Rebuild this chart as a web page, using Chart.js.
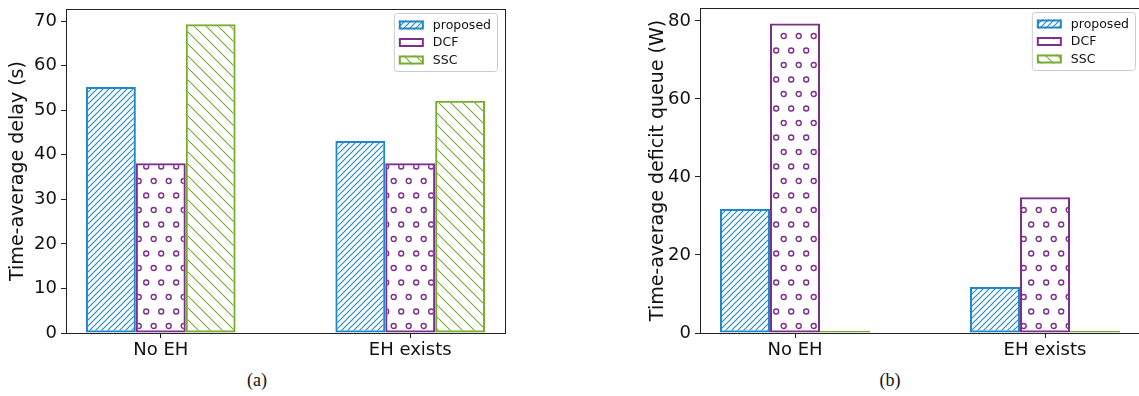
<!DOCTYPE html>
<html>
<head>
<meta charset="utf-8">
<script src="https://cdn.jsdelivr.net/npm/chart.js@4.4.1/dist/chart.umd.min.js"></script>
<style>
  body { margin: 0; background: #fff; width: 1139px; height: 396px; overflow: hidden; position: relative; }
  canvas { position: absolute; top: 0; }
  #left { left: 0; }
  #right { left: 630px; }
  .caption { position: absolute; top: 370px; font-family: "Liberation Serif", serif; font-size: 18px; color: #111; transform: translateX(-50%); }
</style>
</head>
<body>
<canvas id="left" width="515" height="366"></canvas>
<canvas id="right" width="515" height="366"></canvas>
<div class="caption" style="left:257px">(a)</div>
<div class="caption" style="left:890px">(b)</div>
<script>
//Datos de las barras
const categories = ['No EH', 'EH exists'];
const seriesNames = ['proposed', 'DCF', 'SSC'];
const delayProposed = [55.2, 43.1];
const delayDCF = [38.1, 38.1];
const delaySSC = [69.3, 52.1];
const deficitProposed = [31.8, 11.8];
const deficitDCF = [79.3, 34.8];
const deficitSSC = [0, 0];

const colors = ['#2088c8', '#7e2f8e', '#77ac30'];
const fontFamily = '"DejaVu Sans", sans-serif';

//Tramas de relleno
function hatchPattern(color, size, dir) {
    const c = document.createElement('canvas');
    c.width = size; c.height = size;
    const g = c.getContext('2d');
    g.strokeStyle = color;
    g.lineWidth = 1.1;
    g.beginPath();
    if (dir > 0) {
        g.moveTo(0, size); g.lineTo(size, 0);
        g.moveTo(-2, 2); g.lineTo(2, -2);
        g.moveTo(size - 2, size + 2); g.lineTo(size + 2, size - 2);
    } else {
        g.moveTo(0, 0); g.lineTo(size, size);
        g.moveTo(-2, size - 2); g.lineTo(2, size + 2);
        g.moveTo(size - 2, -2); g.lineTo(size + 2, 2);
    }
    g.stroke();
    return g.createPattern(c, 'repeat');
}

function ringPattern(color) {
    const c = document.createElement('canvas');
    c.width = 15; c.height = 29;
    const g = c.getContext('2d');
    g.strokeStyle = color;
    g.lineWidth = 1.4;
    [[3.7, 7], [11.2, 21.5]].forEach(function(p) {
        g.beginPath();
        g.arc(p[0], p[1], 2.5, 0, Math.PI * 2);
        g.stroke();
    });
    return g.createPattern(c, 'repeat');
}

const fills = [hatchPattern(colors[0], 6, 1), ringPattern(colors[1]), hatchPattern(colors[2], 12, -1)];

function makeDatasets(series) {
    return series.map(function(values, s) {
        return {
            label: seriesNames[s],
            data: values.map(function(v, i) { return { x: i, y: v }; }),
            backgroundColor: fills[s],
            borderColor: colors[s],
            borderWidth: 2,
            borderSkipped: false,
            minBarLength: s === 2 ? 2 : 0,
            categoryPercentage: 0.6,
            barPercentage: 1.0
        };
    });
}

//Marco de los ejes
const frame = {
    id: 'frame',
    afterDatasetsDraw(chart) {
        const a = chart.chartArea, ctx = chart.ctx;
        ctx.save();
        ctx.strokeStyle = '#222';
        ctx.lineWidth = 1;
        ctx.strokeRect(Math.round(a.left) + 0.5, Math.round(a.top) + 0.5,
            Math.round(a.right - a.left), Math.round(a.bottom - a.top));
        ctx.restore();
    }
};

//Leyenda dentro del área
const insideLegend = {
    id: 'insideLegend',
    afterDraw(chart, args, opts) {
        const a = chart.chartArea, ctx = chart.ctx;
        ctx.save();
        ctx.font = '12.5px ' + fontFamily;
        let textW = 0;
        chart.data.datasets.forEach(function(d) { textW = Math.max(textW, ctx.measureText(d.label).width); });
        const w = 5 + 25 + 9 + textW + 6;
        const h = 58;
        const x = a.right - opts.right - w;
        const y = a.top + 4;
        ctx.beginPath();
        ctx.roundRect(x + 0.5, y + 0.5, w, h, 3);
        ctx.fillStyle = 'rgba(255,255,255,0.8)';
        ctx.fill();
        ctx.strokeStyle = '#cccccc';
        ctx.lineWidth = 1;
        ctx.stroke();
        chart.data.datasets.forEach(function(d, i) {
            const cy = y + 12 + i * 17.5;
            ctx.fillStyle = '#fff';
            ctx.fillRect(x + 5, cy - 4.5, 25, 9);
            ctx.fillStyle = d.backgroundColor;
            ctx.fillRect(x + 5, cy - 4.5, 25, 9);
            ctx.strokeStyle = d.borderColor;
            ctx.lineWidth = 2;
            ctx.strokeRect(x + 6, cy - 3.5, 23, 7);
            ctx.fillStyle = '#111';
            ctx.textBaseline = 'middle';
            ctx.fillText(d.label, x + 39, cy + 0.5);
        });
        ctx.restore();
    }
};

function makeChart(id, series, yMax, step, yTitle, opt) {
    const ctx = document.getElementById(id).getContext('2d');
    return new Chart(ctx, {
        type: 'bar',
        data: { datasets: makeDatasets(series) },
        options: {
            responsive: false,
            animation: false,
            layout: { padding: { top: opt.top, right: opt.padRight, left: 0, bottom: 0 } },
            plugins: {
                legend: { display: false },
                tooltip: { enabled: false },
                insideLegend: { right: opt.legendRight }
            },
            scales: {
                x: {
                    type: 'linear',
                    offset: false,
                    min: -0.38,
                    max: 1.38,
                    afterBuildTicks: function(scale) {
                        scale.ticks = categories.map(function(c, i) { return { value: i }; });
                    },
                    afterFit: function(scale) {
                        scale.height = 366 - 333;
                        scale.paddingLeft = 0;
                        scale.paddingRight = 0;
                    },
                    ticks: {
                        callback: function(v) { return categories[v]; },
                        font: { family: fontFamily, size: 18 },
                        color: '#111',
                        padding: 2,
                        maxRotation: 0
                    },
                    grid: { offset: false, drawOnChartArea: false, drawTicks: true, tickLength: 5, color: '#222' },
                    border: { display: false }
                },
                y: {
                    min: 0,
                    max: yMax,
                    afterFit: function(scale) {
                        scale.width = opt.axisW;
                        scale.paddingTop = 0;
                        scale.paddingBottom = 0;
                    },
                    ticks: {
                        stepSize: step,
                        includeBounds: false,
                        font: { family: fontFamily, size: 18 },
                        color: '#111',
                        padding: 4
                    },
                    grid: { drawOnChartArea: false, drawTicks: true, tickLength: 5, color: '#222' },
                    border: { display: false },
                    title: {
                        display: true,
                        text: yTitle,
                        font: { family: fontFamily, size: 19 },
                        color: '#111',
                        padding: { top: opt.titlePad, bottom: 0 }
                    }
                }
            }
        },
        plugins: [frame, insideLegend]
    });
}

//Crear los dos gráficos
makeChart('left', [delayProposed, delayDCF, delaySSC], 72.7, 10, 'Time-average delay (s)',
    { top: 9, padRight: 10, axisW: 66, titlePad: 7, legendRight: 8 });
makeChart('right', [deficitProposed, deficitDCF, deficitSSC], 83.3, 20, 'Time-average deficit queue (W)',
    { top: 8, padRight: 5, axisW: 70, titlePad: 17, legendRight: 5 });
</script>
</body>
</html>
